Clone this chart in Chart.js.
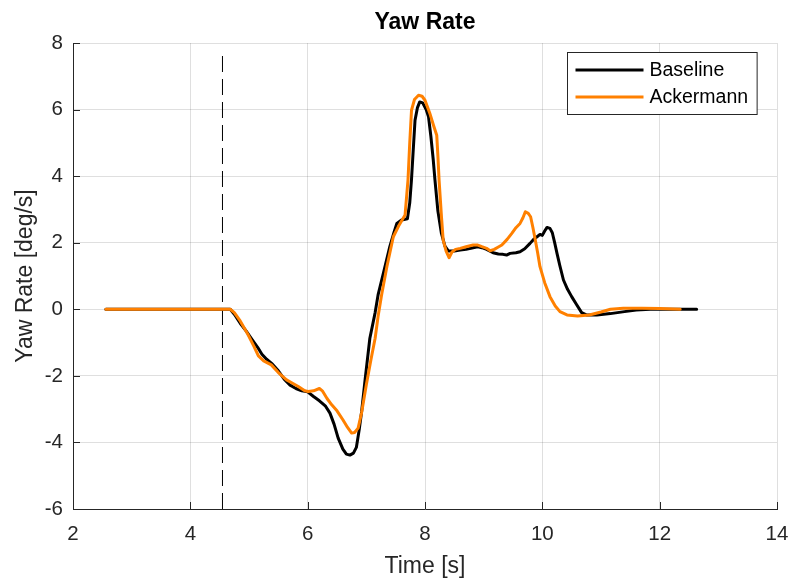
<!DOCTYPE html>
<html>
<head>
<meta charset="utf-8">
<script src="https://cdn.jsdelivr.net/npm/chart.js@4/dist/chart.umd.min.js"></script>
<style>
  html, body { margin: 0; padding: 0; background: #ffffff; }
  #wrap { width: 791px; height: 580px; position: relative; }
</style>
</head>
<body>
<div id="wrap"><canvas id="c"></canvas></div>
<script>
// Yaw rate response, time in seconds, rate in deg/s
const baselineTime = [2.56, 4.6, 4.68, 4.75, 4.85, 4.95, 5.05, 5.15, 5.22, 5.3, 5.4, 5.5, 5.6, 5.7, 5.8, 5.9, 6.0, 6.1, 6.2, 6.3, 6.38, 6.45, 6.52, 6.6, 6.66, 6.72, 6.78, 6.83, 6.88, 6.92, 6.98, 7.06, 7.15, 7.2, 7.29, 7.4, 7.47, 7.52, 7.6, 7.7, 7.74, 7.77, 7.8, 7.83, 7.87, 7.91, 7.96, 8.02, 8.06, 8.1, 8.14, 8.17, 8.22, 8.28, 8.34, 8.4, 8.5, 8.6, 8.7, 8.82, 8.9, 8.97, 9.05, 9.16, 9.25, 9.33, 9.39, 9.45, 9.55, 9.62, 9.7, 9.79, 9.85, 9.91, 9.96, 10.0, 10.04, 10.08, 10.13, 10.17, 10.21, 10.25, 10.3, 10.36, 10.43, 10.5, 10.58, 10.67, 10.75, 10.93, 11.16, 11.4, 11.6, 11.84, 12.2, 12.63];
const baselineRate = [0, 0, 0, -0.15, -0.42, -0.65, -0.9, -1.15, -1.35, -1.5, -1.65, -1.85, -2.1, -2.28, -2.38, -2.45, -2.48, -2.62, -2.75, -2.9, -3.12, -3.45, -3.87, -4.2, -4.35, -4.38, -4.32, -4.15, -3.6, -3.07, -2.1, -0.87, -0.1, 0.43, 1.08, 1.88, 2.3, 2.58, 2.68, 2.72, 3.2, 3.9, 4.8, 5.68, 6.05, 6.23, 6.2, 6.0, 5.78, 5.2, 4.5, 3.88, 2.95, 2.28, 1.9, 1.75, 1.75, 1.78, 1.8, 1.85, 1.88, 1.85, 1.8, 1.7, 1.66, 1.65, 1.63, 1.68, 1.7, 1.73, 1.82, 1.98, 2.1, 2.18, 2.25, 2.22, 2.35, 2.46, 2.43, 2.3, 2.0, 1.68, 1.3, 0.88, 0.6, 0.38, 0.15, -0.1, -0.17, -0.17, -0.13, -0.07, -0.02, 0.0, 0.0, 0.0];

const ackermannTime = [2.56, 4.68, 4.75, 4.85, 4.98, 5.08, 5.16, 5.25, 5.38, 5.5, 5.64, 5.72, 5.84, 5.95, 6.01, 6.1, 6.2, 6.25, 6.33, 6.41, 6.5, 6.6, 6.68, 6.75, 6.8, 6.86, 6.92, 7.0, 7.08, 7.15, 7.2, 7.26, 7.35, 7.46, 7.55, 7.66, 7.71, 7.74, 7.77, 7.82, 7.89, 7.95, 8.0, 8.08, 8.15, 8.2, 8.22, 8.24, 8.28, 8.31, 8.36, 8.41, 8.46, 8.52, 8.6, 8.7, 8.82, 8.9, 8.97, 9.05, 9.11, 9.18, 9.25, 9.31, 9.4, 9.48, 9.55, 9.62, 9.67, 9.71, 9.76, 9.8, 9.84, 9.88, 9.92, 9.96, 10.04, 10.13, 10.22, 10.3, 10.42, 10.6, 10.8, 11.0, 11.16, 11.38, 11.7, 12.0, 12.35];
const ackermannRate = [0, 0, -0.1, -0.35, -0.75, -1.1, -1.4, -1.55, -1.67, -1.9, -2.12, -2.2, -2.32, -2.45, -2.47, -2.45, -2.38, -2.45, -2.68, -2.87, -3.05, -3.32, -3.55, -3.72, -3.7, -3.57, -3.1, -2.27, -1.5, -0.87, -0.22, 0.43, 1.28, 2.18, 2.5, 2.83, 3.88, 5.0, 5.98, 6.3, 6.43, 6.4, 6.28, 5.9, 5.5, 5.23, 4.6, 3.88, 2.8, 2.08, 1.75, 1.55, 1.72, 1.8, 1.83, 1.88, 1.93, 1.93, 1.88, 1.83, 1.76, 1.8, 1.87, 1.93, 2.1, 2.28, 2.45, 2.58, 2.75, 2.93, 2.88, 2.78, 2.45, 2.08, 1.7, 1.28, 0.8, 0.38, 0.1, -0.07, -0.17, -0.2, -0.17, -0.08, 0.0, 0.03, 0.03, 0.02, 0.0];

// steering input marker
const markerTime = [4.548, 4.548];
const markerRate = [-6, 7.7];

const xTicks = [2, 4, 6, 8, 10, 12, 14];
const yTicks = [-6, -4, -2, 0, 2, 4, 6, 8];

const seriesNames = ['Baseline', 'Ackermann'];
const seriesColors = ['#000000', '#FF8000'];
const chartTitle = 'Yaw Rate';

const FONT = "'Liberation Sans', Arial, Helvetica, sans-serif";
const INK = '#262626';

function toPoints(xs, ys) { return xs.map((x, i) => ({ x: x, y: ys[i] })); }

// bold title centred over the plot area
const plotTitle = {
  id: 'plotTitle',
  afterDraw(chart) {
    const { ctx, chartArea } = chart;
    ctx.save();
    ctx.font = 'bold 23px ' + FONT;
    ctx.fillStyle = '#000000';
    ctx.textAlign = 'center';
    ctx.textBaseline = 'middle';
    ctx.fillText(chartTitle, (chartArea.left + chartArea.right) / 2, 23);
    ctx.restore();
  }
};

// inward tick marks on the left and bottom axes
const inwardTicks = {
  id: 'inwardTicks',
  afterDatasetsDraw(chart) {
    const { ctx, chartArea, scales } = chart;
    const len = 7;
    ctx.save();
    ctx.strokeStyle = INK;
    ctx.lineWidth = 1;
    ctx.beginPath();
    xTicks.forEach(v => {
      const px = Math.round(scales.x.getPixelForValue(v)) + 0.5;
      ctx.moveTo(px, chartArea.bottom);
      ctx.lineTo(px, chartArea.bottom - len);
    });
    yTicks.forEach(v => {
      const py = Math.round(scales.y.getPixelForValue(v)) + 0.5;
      ctx.moveTo(chartArea.left, py);
      ctx.lineTo(chartArea.left + len, py);
    });
    ctx.stroke();
    ctx.restore();
  }
};

// boxed legend inside the top-right corner of the plot
const boxLegend = {
  id: 'boxLegend',
  afterDraw(chart) {
    const { ctx, chartArea } = chart;
    const items = chart.data.datasets.filter(d => d.inLegend);
    ctx.save();
    ctx.font = '19.5px ' + FONT;
    const textW = Math.max(...items.map(d => ctx.measureText(d.label).width));
    const padL = 8, lineLen = 68, gap = 6, padR = 9, rowH = 27, padV = 17.5;
    const w = padL + lineLen + gap + textW + padR;
    const h = padV * 2 + rowH * (items.length - 1);
    const right = chartArea.right - 20;
    const left = Math.round(right - w) + 0.5;
    const top = Math.round(chartArea.top + 9) + 0.5;
    ctx.fillStyle = '#ffffff';
    ctx.fillRect(left, top, w, h);
    ctx.strokeStyle = INK;
    ctx.lineWidth = 1;
    ctx.strokeRect(left, top, w, h);
    items.forEach((d, i) => {
      const y = top + padV + rowH * i;
      ctx.strokeStyle = d.borderColor;
      ctx.lineWidth = 3;
      ctx.beginPath();
      ctx.moveTo(left + padL, y);
      ctx.lineTo(left + padL + lineLen, y);
      ctx.stroke();
      ctx.fillStyle = '#000000';
      ctx.textBaseline = 'middle';
      ctx.textAlign = 'left';
      ctx.fillText(d.label, left + padL + lineLen + gap, y + 1);
    });
    ctx.restore();
  }
};

new Chart(document.getElementById('c'), {
  type: 'scatter',
  data: {
    datasets: [
      {
        label: seriesNames[0], inLegend: true,
        data: toPoints(baselineTime, baselineRate),
        showLine: true, borderColor: seriesColors[0], backgroundColor: seriesColors[0],
        borderWidth: 3, pointRadius: 0, tension: 0, order: 1,
        borderJoinStyle: 'round', borderCapStyle: 'round'
      },
      {
        label: seriesNames[1], inLegend: true,
        data: toPoints(ackermannTime, ackermannRate),
        showLine: true, borderColor: seriesColors[1], backgroundColor: seriesColors[1],
        borderWidth: 3, pointRadius: 0, tension: 0, order: 0,
        borderJoinStyle: 'round', borderCapStyle: 'round'
      },
      {
        label: 'marker', inLegend: false,
        data: toPoints(markerTime, markerRate),
        showLine: true, borderColor: '#000000', borderWidth: 1,
        borderDash: [16, 7], pointRadius: 0, order: 2
      }
    ]
  },
  options: {
    responsive: true,
    maintainAspectRatio: false,
    animation: false,
    layout: { padding: { left: 0, right: 14, top: 43, bottom: 0 } },
    plugins: {
      legend: { display: false },
      tooltip: { enabled: false },
      title: { display: false }
    },
    scales: {
      x: {
        type: 'linear', min: 2, max: 14,
        afterBuildTicks(s) { s.ticks = xTicks.map(v => ({ value: v })); },
        afterFit(s) { s.height = 71; s.paddingLeft = 0; s.paddingRight = 0; },
        ticks: { color: INK, font: { family: FONT, size: 20.5 }, padding: 13, maxRotation: 0 },
        grid: { color: 'rgba(38,38,38,0.15)', lineWidth: 1, drawTicks: false },
        border: { display: true, color: INK, width: 1 },
        title: { display: true, text: 'Time [s]', color: INK, font: { family: FONT, size: 23 }, padding: { top: 3, bottom: 0 } }
      },
      y: {
        type: 'linear', min: -6, max: 8,
        afterBuildTicks(s) { s.ticks = yTicks.map(v => ({ value: v })); },
        afterFit(s) { s.width = 73; s.paddingTop = 0; s.paddingBottom = 0; },
        ticks: { color: INK, font: { family: FONT, size: 20.5 }, padding: 10 },
        grid: { color: 'rgba(38,38,38,0.15)', lineWidth: 1, drawTicks: false },
        border: { display: true, color: INK, width: 1 },
        title: { display: true, text: 'Yaw Rate [deg/s]', color: INK, font: { family: FONT, size: 23 }, padding: { top: 12, bottom: 0 } }
      }
    }
  },
  plugins: [plotTitle, inwardTicks, boxLegend]
});
</script>
</body>
</html>
